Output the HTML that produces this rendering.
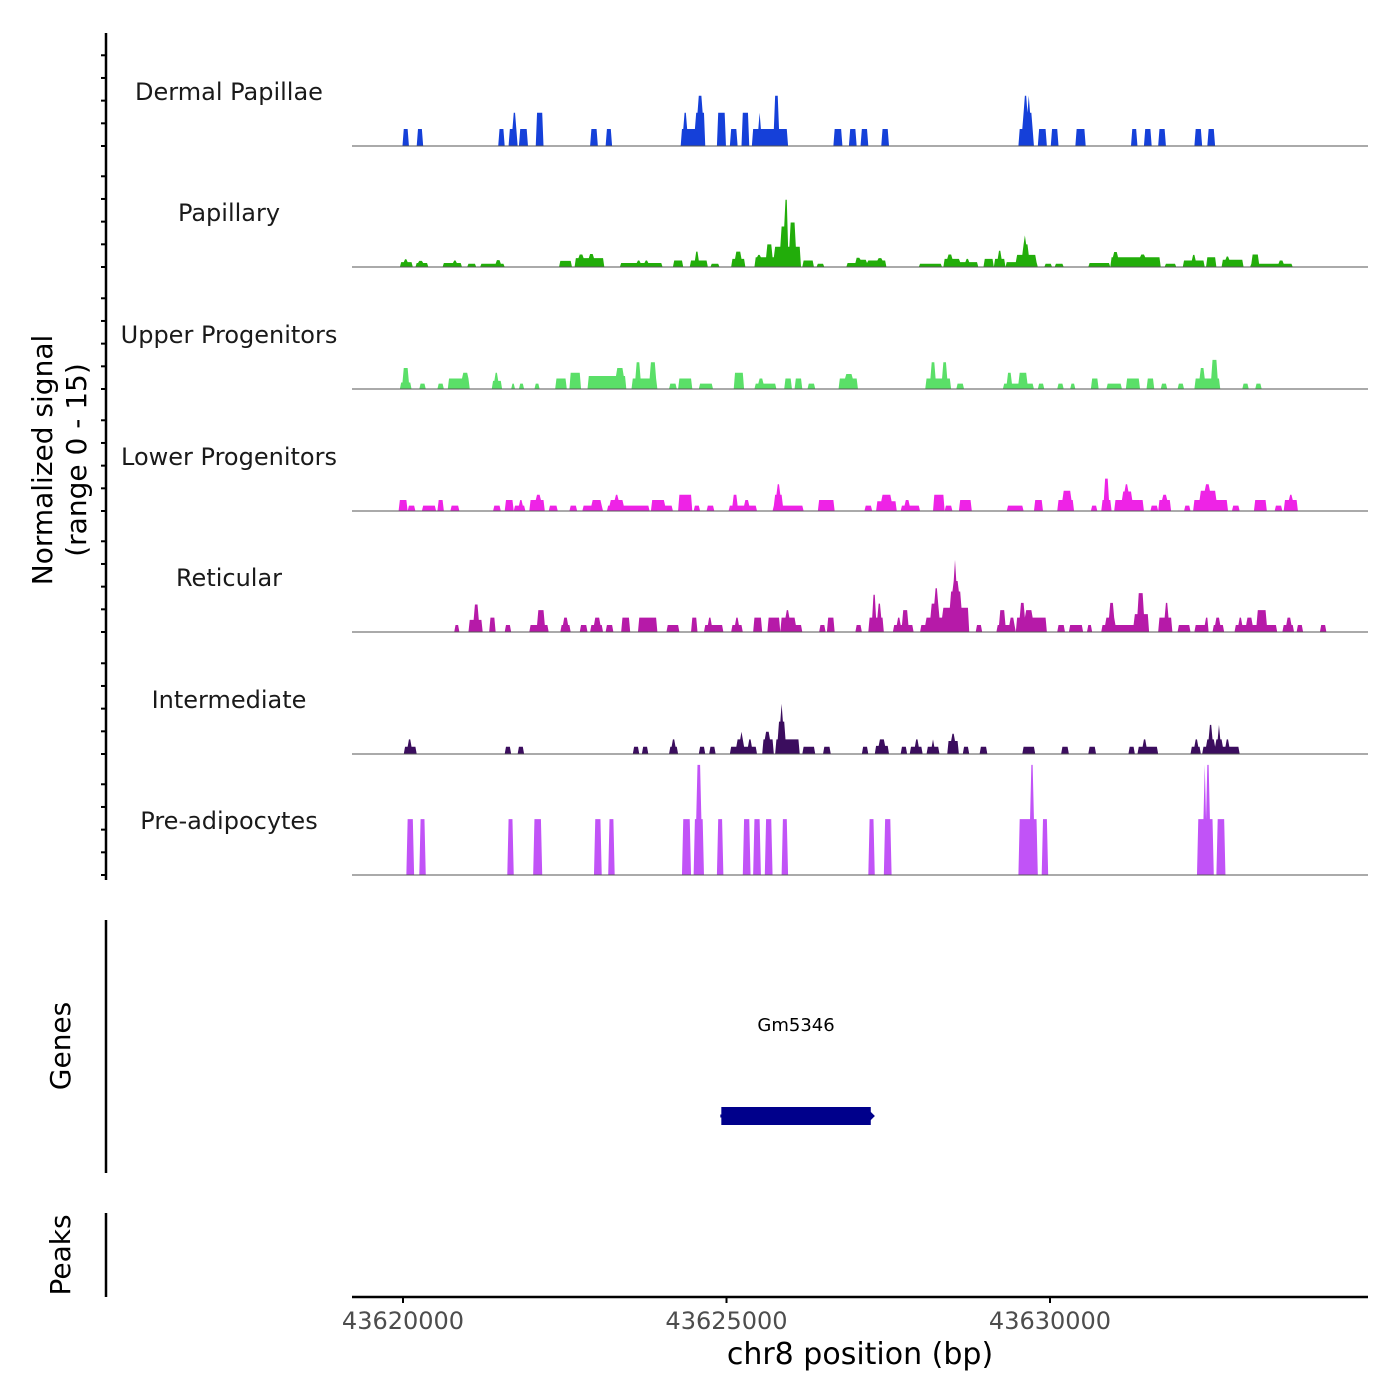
<!DOCTYPE html>
<html><head><meta charset="utf-8"><style>
html,body{margin:0;padding:0;background:#fff;}
svg{display:block;font-family:"DejaVu Sans","Liberation Sans",sans-serif;}
</style></head><body>
<svg id="chart" width="1400" height="1400" viewBox="0 0 1400 1400">
<rect width="1400" height="1400" fill="#fff"/>
<g id="tracks"></g>
<g id="axes"></g>
</svg>
<script>
// ---- data (kb offsets from 43620000; [start, end, signal]) ----
const trackNames = ["Dermal Papillae","Papillary","Upper Progenitors","Lower Progenitors","Reticular","Intermediate","Pre-adipocytes"];
const trackColors = ["#1540d9","#22ad0a","#5adf68","#ee23e6","#b61aa8","#3b0d5e","#c153f7"];
const xTickValues = [43620000,43625000,43630000];
const xTickLabels = ["43620000","43625000","43630000"];
const signalRange = [0,15];
const geneName = "Gm5346";
const geneStartKb = 4.92, geneEndKb = 7.23;

const dermal = [[0,0.09,2.1],[0.22,0.31,2.1],[1.48,1.57,2.1],[1.65,1.77,2.1],[1.70,1.74,4.1],[1.80,1.93,2.1],[2.06,2.16,4.1],[2.91,3.01,2.1],[3.14,3.23,2.1],[4.30,4.66,2.1],[4.34,4.39,4.1],[4.53,4.66,4.1],[4.57,4.62,6.2],[4.86,4.98,4.1],[5.07,5.16,2.1],[5.24,5.35,4.1],[5.41,5.94,2.1],[5.50,5.52,4.1],[5.74,5.81,6.2],[6.67,6.79,2.1],[6.90,7.00,2.1],[7.08,7.18,2.1],[7.40,7.50,2.1],[9.52,9.75,2.1],[9.58,9.72,4.1],[9.61,9.64,6.2],[9.66,9.69,6.2],[9.83,9.94,2.1],[10.03,10.12,2.1],[10.41,10.55,2.1],[11.26,11.35,2.1],[11.46,11.57,2.1],[11.69,11.79,2.1],[12.25,12.35,2.1],[12.45,12.54,2.1]];
const papillary = [[-0.04,0.14,0.6],[0.02,0.06,0.95],[0.20,0.39,0.5],[0.25,0.30,0.75],[0.63,0.91,0.5],[0.78,0.82,0.8],[1.0,1.12,0.4],[1.20,1.56,0.4],[1.45,1.50,0.85],[2.43,2.61,0.75],[2.67,3.10,1.1],[2.72,2.78,1.55],[2.88,2.95,1.6],[3.37,4.01,0.5],[3.62,3.66,0.8],[3.75,3.78,0.8],[4.18,4.33,0.8],[4.44,4.70,0.8],[4.52,4.57,1.9],[4.77,4.88,0.4],[5.08,5.29,1.0],[5.15,5.22,1.9],[5.45,5.60,1.2],[5.48,5.52,1.5],[5.60,5.75,1.2],[5.62,5.70,2.8],[5.75,6.14,2.5],[5.85,5.95,5.0],[5.90,5.94,8.3],[5.98,6.06,5.5],[6.19,6.35,0.8],[6.40,6.50,0.4],[6.87,7.25,0.5],[7.0,7.06,1.15],[7.06,7.16,0.9],[7.18,7.47,0.8],[7.35,7.40,1.1],[7.99,8.33,0.4],[8.36,8.61,1.0],[8.42,8.48,1.55],[8.61,8.89,0.6],[8.70,8.74,1.0],[8.98,9.12,1.0],[9.14,9.30,1.0],[9.20,9.24,2.0],[9.32,9.80,0.6],[9.48,9.79,1.5],[9.58,9.66,2.8],[9.61,9.63,3.9],[9.92,10.03,0.4],[10.09,10.20,0.4],[10.60,10.93,0.5],[10.94,11.70,1.2],[10.99,11.05,1.85],[11.40,11.47,1.55],[11.79,11.95,0.4],[12.06,12.39,0.8],[12.20,12.25,1.5],[12.42,12.57,1.2],[12.67,12.99,0.9],[12.73,12.77,1.3],[13.11,13.75,0.4],[13.12,13.23,1.55],[13.55,13.60,0.8]];
const upper = [[-0.03,0.12,0.8],[0.0,0.08,2.6],[0.27,0.34,0.66],[0.55,0.63,0.66],[0.71,1.03,1.3],[0.93,1.0,2.0],[1.38,1.53,1.0],[1.43,1.46,2.0],[1.68,1.73,0.66],[1.81,1.86,0.66],[2.04,2.11,0.66],[2.37,2.52,1.3],[2.59,2.74,2.0],[2.86,3.45,1.6],[3.30,3.40,2.6],[3.55,3.93,1.3],[3.60,3.67,3.3],[3.83,3.90,3.3],[4.13,4.22,0.66],[4.27,4.46,1.3],[4.59,4.79,0.66],[5.13,5.26,2.0],[5.44,5.77,0.66],[5.50,5.56,1.3],[5.90,6.00,1.3],[6.07,6.17,1.3],[6.26,6.37,0.66],[6.75,7.03,1.3],[6.85,6.95,1.85],[8.08,8.46,1.3],[8.16,8.22,3.3],[8.34,8.40,3.3],[8.57,8.67,0.66],[9.29,9.75,0.66],[9.35,9.40,2.0],[9.53,9.65,2.0],[9.83,9.90,0.66],[10.13,10.20,0.66],[10.32,10.39,0.66],[10.64,10.74,1.3],[10.89,11.11,0.66],[11.18,11.39,1.3],[11.51,11.61,1.3],[11.72,11.81,0.66],[11.98,12.07,0.66],[12.25,12.62,1.3],[12.32,12.38,2.6],[12.50,12.58,3.6],[12.99,13.07,0.66],[13.18,13.27,0.66]];
const lower = [[-0.06,0.07,1.36],[0.08,0.19,0.66],[0.30,0.50,0.66],[0.55,0.63,1.36],[0.75,0.86,0.66],[1.40,1.51,0.66],[1.58,1.71,1.36],[1.73,1.89,0.66],[1.80,1.84,1.36],[1.96,2.19,1.36],[2.07,2.12,2.0],[2.27,2.39,0.66],[2.59,2.69,0.66],[2.79,3.09,0.66],[2.92,3.07,1.36],[3.17,3.80,0.66],[3.20,3.40,1.36],[3.28,3.33,2.0],[3.85,4.05,1.36],[4.05,4.17,0.66],[4.27,4.46,2.0],[4.51,4.59,0.66],[4.71,4.81,0.66],[5.04,5.46,0.66],[5.11,5.16,2.0],[5.28,5.34,1.36],[5.72,6.19,0.66],[5.75,5.87,2.0],[5.79,5.83,3.3],[6.43,6.67,1.36],[7.15,7.25,0.66],[7.33,7.63,1.2],[7.40,7.55,2.0],[7.70,7.98,0.66],[7.77,7.82,1.36],[8.21,8.37,2.0],[8.39,8.49,0.66],[8.61,8.79,1.36],[9.35,9.58,0.66],[9.77,9.88,1.36],[10.13,10.37,1.36],[10.20,10.33,2.5],[10.64,10.73,0.66],[10.81,10.94,1.36],[10.85,10.90,4.0],[11.01,11.44,1.36],[11.13,11.26,2.4],[11.17,11.21,3.3],[11.56,11.66,0.66],[11.69,11.86,1.36],[11.75,11.80,2.0],[12.09,12.17,0.66],[12.22,12.74,1.36],[12.32,12.57,2.5],[12.40,12.46,3.3],[12.82,12.92,0.66],[13.16,13.35,1.36],[13.48,13.58,0.66],[13.63,13.83,1.36],[13.70,13.75,2.0]];
const reticular = [[0.80,0.87,0.86],[1.03,1.23,1.5],[1.10,1.16,3.4],[1.35,1.43,1.77],[1.58,1.66,0.86],[1.96,2.24,0.86],[2.09,2.19,2.7],[2.44,2.59,0.86],[2.49,2.54,1.77],[2.74,2.84,0.86],[2.91,3.09,0.86],[2.96,3.05,1.77],[3.15,3.25,0.86],[3.38,3.50,1.77],[3.65,3.93,1.77],[4.08,4.27,0.86],[4.46,4.54,1.77],[4.67,4.94,0.86],[4.73,4.77,1.77],[5.09,5.24,0.86],[5.14,5.18,1.77],[5.42,5.54,1.77],[5.65,5.82,1.77],[5.85,6.07,1.77],[5.92,5.96,2.7],[6.07,6.17,0.86],[6.45,6.53,0.86],[6.57,6.67,1.77],[7.01,7.09,0.86],[7.20,7.43,1.77],[7.27,7.31,4.6],[7.34,7.38,3.5],[7.58,7.88,0.86],[7.64,7.68,1.77],[7.72,7.80,2.7],[8.01,8.34,0.86],[8.08,8.34,1.77],[8.17,8.28,3.5],[8.22,8.26,5.4],[8.34,8.74,3.0],[8.46,8.62,5.0],[8.50,8.58,6.3],[8.53,8.55,8.9],[8.87,8.95,0.86],[9.19,9.47,0.86],[9.22,9.30,2.7],[9.38,9.44,1.77],[9.48,9.95,1.77],[9.55,9.60,3.6],[9.62,9.72,2.7],[10.13,10.23,0.86],[10.30,10.50,0.86],[10.58,10.65,0.86],[10.81,11.53,0.86],[10.86,11.01,1.77],[10.92,10.98,3.6],[11.31,11.53,2.2],[11.36,11.45,4.8],[11.69,11.89,1.77],[11.78,11.82,3.6],[11.99,12.17,0.86],[12.25,12.44,0.86],[12.40,12.44,1.77],[12.52,12.69,0.86],[12.56,12.62,1.77],[12.87,13.51,0.86],[12.92,12.97,1.77],[13.05,13.12,1.77],[13.20,13.35,2.7],[13.61,13.76,0.86],[13.67,13.72,1.77],[13.83,13.91,0.86],[14.19,14.26,0.86]];
const intermediate = [[0.02,0.20,0.9],[0.08,0.12,1.8],[1.58,1.66,0.9],[1.78,1.86,0.9],[3.57,3.65,0.9],[3.70,3.78,0.9],[4.13,4.25,0.9],[4.17,4.21,1.8],[4.59,4.67,0.9],[4.74,4.82,0.9],[5.07,5.46,0.9],[5.16,5.26,1.8],[5.22,5.25,2.75],[5.34,5.38,1.8],[5.56,5.72,1.8],[5.61,5.67,2.75],[5.77,6.13,1.8],[5.80,5.90,4.0],[5.84,5.87,6.2],[6.19,6.37,0.9],[6.51,6.61,0.9],[7.10,7.18,0.9],[7.31,7.50,1.0],[7.36,7.45,1.8],[7.70,7.78,0.9],[7.84,8.03,0.9],[7.92,7.96,1.8],[8.10,8.29,0.9],[8.18,8.21,1.8],[8.42,8.59,1.6],[8.48,8.53,2.5],[8.67,8.75,0.9],[8.92,9.02,0.9],[9.58,9.77,0.9],[10.18,10.28,0.9],[10.60,10.70,0.9],[11.23,11.31,0.9],[11.36,11.66,0.9],[11.44,11.48,1.8],[12.19,12.32,0.9],[12.25,12.28,1.8],[12.37,12.92,0.9],[12.42,12.54,1.8],[12.46,12.50,3.6],[12.57,12.66,1.8],[12.60,12.63,3.6],[12.73,12.76,1.8]];
const preadipo = [[0.07,0.17,6.9],[0.26,0.35,6.9],[1.62,1.71,6.9],[2.03,2.14,6.9],[2.97,3.07,6.9],[3.18,3.27,6.9],[4.33,4.44,6.9],[4.51,4.64,6.9],[4.55,4.60,13.6],[4.86,4.95,6.9],[5.26,5.36,6.9],[5.43,5.53,6.9],[5.60,5.70,6.9],[5.87,5.95,6.9],[7.20,7.29,6.9],[7.45,7.54,6.9],[9.52,9.80,6.9],[9.71,9.75,13.6],[9.88,9.97,6.9],[12.29,12.52,6.9],[12.38,12.40,13.6],[12.43,12.46,13.6],[12.59,12.70,6.9]];
const trackData = [dermal,papillary,upper,lower,reticular,intermediate,preadipo];

// ---- layout ----
const NS="http://www.w3.org/2000/svg";
const plotL=352, plotR=1368, x0=403, pxPerKb=64.7;
const baselines=[146,267,389,511,632,754,875];
const trackH=121.5;
function xScale(kb){return x0+kb*pxPerKb;}
function xScaleBp(bp){return xScale((bp-43620000)/1000);}
function yScale(v,b){return b-(v-signalRange[0])/(signalRange[1]-signalRange[0])*trackH;}
function mk(tag,attrs,parent){const e=document.createElementNS(NS,tag);for(const k in attrs)e.setAttribute(k,attrs[k]);parent.appendChild(e);return e;}

const gT=document.getElementById('tracks');
const kbMin=(plotL-x0)/pxPerKb, kbMax=(plotR-x0)/pxPerKb, step=0.02;
trackData.forEach((segs,i)=>{
  const b=baselines[i];
  const g=mk('g',{},gT);
  
  
  let d='M'+plotL+','+b;
  for(let k=kbMin;k<=kbMax+1e-9;k+=step){
    let v=0;
    segs.forEach(s=>{if(k>=s[0]&&k<=s[1]&&s[2]>v)v=s[2];});
    d+=' L'+xScale(k).toFixed(2)+','+yScale(v,b).toFixed(2);
  }
  d+=' L'+plotR+','+b+' Z';
  const p=mk('path',{d:d,fill:trackColors[i],stroke:'none'},g);
  
  
  const ln=mk('line',{x1:plotL,x2:plotR,y1:b,y2:b,stroke:'#555',"stroke-width":1},g);
  
  
  const t=mk('text',{x:229,y:b-46,"text-anchor":"middle","font-size":24,fill:'#1a1a1a'},g);
  t.textContent=trackNames[i];
  
  
});

// ---- axes ----
const gA=document.getElementById('axes');
let l=mk('line',{x1:106,x2:106,y1:33,y2:880,stroke:'#000',"stroke-width":2.5},gA);


baselines.forEach(b=>{
  [0,2.8,5.6,8.4,11.2].forEach(v=>{
    const y=yScale(v,b);
    if(y<33)return;
    const t=mk('line',{x1:101,x2:106,y1:y,y2:y,stroke:'#000',"stroke-width":2},gA);
    
    
  });
});
let yt=mk('text',{transform:'translate(52,460) rotate(-90)',"text-anchor":"middle","font-size":28,fill:'#000'},gA);


yt.innerHTML='<tspan x="0" dy="0">Normalized signal</tspan><tspan x="0" dy="34">(range 0 - 15)</tspan>';

l=mk('line',{x1:106,x2:106,y1:920,y2:1173,stroke:'#000',"stroke-width":2.5},gA);


let gt=mk('text',{transform:'translate(70,1046) rotate(-90)',"text-anchor":"middle","font-size":28,fill:'#000'},gA);
gt.textContent='Genes';


l=mk('line',{x1:106,x2:106,y1:1213,y2:1297,stroke:'#000',"stroke-width":2.5},gA);


let pt=mk('text',{transform:'translate(70,1255) rotate(-90)',"text-anchor":"middle","font-size":28,fill:'#000'},gA);
pt.textContent='Peaks';



// gene
const gx1=xScale(geneStartKb), gx2=xScale(geneEndKb);
let gr=mk('rect',{x:gx1,y:1107,width:gx2-gx1,height:18,fill:'#00008b'},gA);


let gs=mk('path',{d:`M${gx1+2},1116 l-3,0 M${gx2-4},1110 l6,6 l-6,6`,stroke:'#00008b',"stroke-width":3,fill:'none'},gA);


let gl=mk('text',{x:(gx1+gx2)/2,y:1031,"text-anchor":"middle","font-size":18,fill:'#000'},gA);
gl.textContent=geneName;



// x axis
l=mk('line',{x1:plotL,x2:plotR,y1:1297,y2:1297,stroke:'#000',"stroke-width":2.5},gA);


xTickValues.forEach((v,i)=>{
  const x=xScaleBp(v);
  const t=mk('line',{x1:x,x2:x,y1:1297,y2:1303,stroke:'#000',"stroke-width":2},gA);
  
  
  const tl=mk('text',{x:x,y:1329,"text-anchor":"middle","font-size":24,fill:'#4d4d4d'},gA);
  tl.textContent=xTickLabels[i];
  
  
});
let xt=mk('text',{x:860,y:1364,"text-anchor":"middle","font-size":30,fill:'#000'},gA);
xt.textContent='chr8 position (bp)';


</script>
</body></html>
